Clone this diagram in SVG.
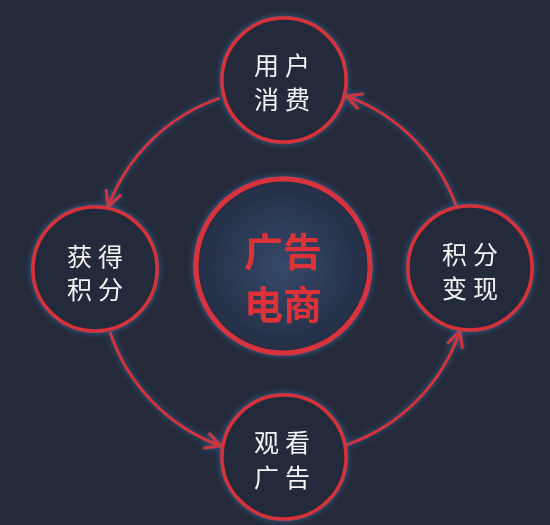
<svg xmlns="http://www.w3.org/2000/svg" width="550" height="525" viewBox="0 0 550 525">
<style>
.node{fill:#232a3b;stroke:#d63039;stroke-width:3.5}
.lbl{font-family:"Noto Sans CJK SC","Liberation Serif",serif;font-size:25px;fill:#f4f4f4;text-anchor:middle;dominant-baseline:central;letter-spacing:6px}
.big{font-family:"Noto Sans CJK SC","Liberation Sans",sans-serif;font-size:39px;font-weight:bold;fill:#dc3039;text-anchor:middle;dominant-baseline:central}
.arc{fill:none;stroke:#d63039;stroke-width:2.8;marker-end:url(#ah)}
</style>
<defs>
<filter id="glow" x="-30%" y="-30%" width="160%" height="160%">
<feGaussianBlur in="SourceAlpha" stdDeviation="3" result="b"/>
<feFlood flood-color="#3b73a8" flood-opacity="0.8"/>
<feComposite in2="b" operator="in" result="g"/>
<feMerge><feMergeNode in="g"/><feMergeNode in="SourceGraphic"/></feMerge>
</filter>
<radialGradient id="cg" cx="50%" cy="50%" r="50%">
<stop offset="0" stop-color="#34496b"/>
<stop offset="1" stop-color="#252e44"/>
</radialGradient>
<marker id="ah" viewBox="0 0 20 20" refX="18" refY="10" markerWidth="20" markerHeight="20" markerUnits="userSpaceOnUse" orient="auto">
<path d="M2,2 L18,10 L2,18" fill="none" stroke="#d63039" stroke-width="2.8"/>
</marker>
</defs>
<rect width="550" height="525" fill="#242a3a"/>
<g id="connectors" filter="url(#glow)">
<path class="arc" d="M220,98 A183,183 0 0 0 108,207"/>
<path class="arc" d="M110,332 A183,183 0 0 0 221,446"/>
<path class="arc" d="M346,445 A183,183 0 0 0 460,331"/>
<path class="arc" d="M457,208 A183,183 0 0 0 346,96"/>
</g>
<g id="center" filter="url(#glow)">
<circle cx="283" cy="266" r="87" fill="url(#cg)" stroke="#d8323c" stroke-width="5"/>
<text class="big" x="283" y="249">广告</text>
<text class="big" x="283" y="302">电商</text>
</g>
<g id="n-top" filter="url(#glow)">
<circle class="node" cx="284" cy="80" r="62"/>
<text class="lbl" x="285" y="64">用户</text>
<text class="lbl" x="285" y="98">消费</text>
</g>
<g id="n-left" filter="url(#glow)">
<circle class="node" cx="95" cy="269" r="62"/>
<text class="lbl" x="98" y="255">获得</text>
<text class="lbl" x="98" y="288">积分</text>
</g>
<g id="n-right" filter="url(#glow)">
<circle class="node" cx="470" cy="268" r="62"/>
<text class="lbl" x="473" y="253">积分</text>
<text class="lbl" x="473" y="287">变现</text>
</g>
<g id="n-bottom" filter="url(#glow)">
<circle class="node" cx="284" cy="457" r="62"/>
<text class="lbl" x="285" y="441">观看</text>
<text class="lbl" x="285" y="476">广告</text>
</g>
</svg>
